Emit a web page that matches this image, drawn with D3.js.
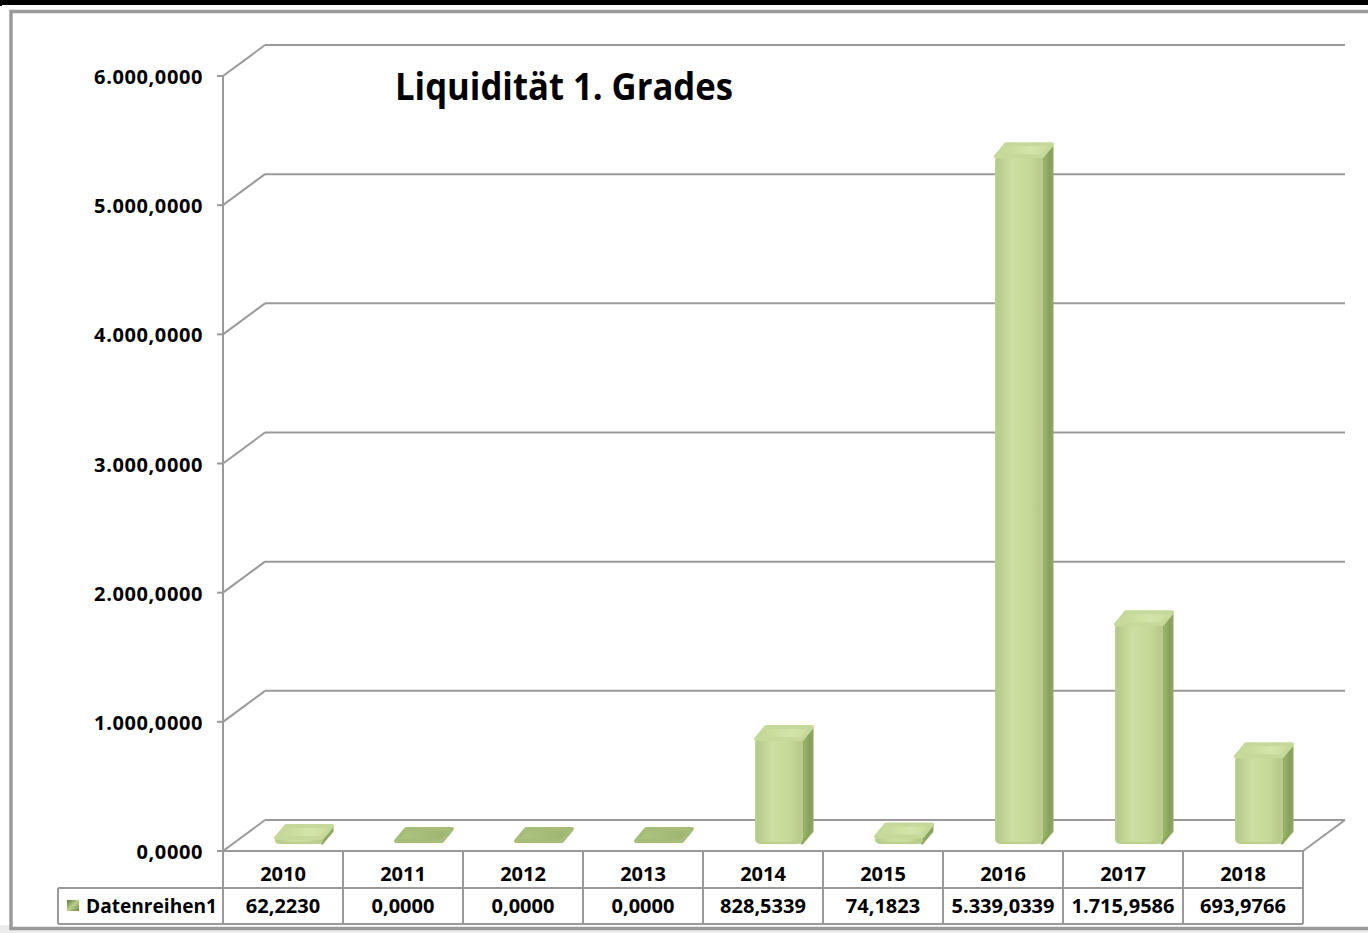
<!DOCTYPE html>
<html>
<head>
  <meta charset="utf-8" />
  <title>Liquidität 1. Grades</title>
  <style>
    html, body { margin: 0; padding: 0; background: #fff; }
    svg { display: block; }
    text { font-family: "Open Sans", "Noto Sans", sans-serif; font-weight: bold; fill: #000; }
  </style>
</head>
<body>
<svg id="chart" width="1368" height="933"></svg>

<script src="https://d3js.org/d3.v7.min.js"></script>
<script>
  // Chart data
  const title = "Liquidität 1. Grades";
  const seriesName = "Datenreihen1";
  const categories = ["2010", "2011", "2012", "2013", "2014", "2015", "2016", "2017", "2018"];
  const values = [62.2230, 0.0000, 0.0000, 0.0000, 828.5339, 74.1823, 5339.0339, 1715.9586, 693.9766];
  const yTicks = [0, 1000, 2000, 3000, 4000, 5000, 6000];

  // German number format: 5.339,0339
  const de = d3.formatLocale({ decimal: ",", thousands: ".", grouping: [3], currency: ["", " €"] });
  const fmt = de.format(",.4f");

  const svg = d3.select("#chart");

  // Geometry of the 3D plot
  const DX = 42, DY = -31;          // depth offset of the back wall
  const x = d3.scaleBand().domain(categories).range([223, 1303]);
  const y = d3.scaleLinear().domain([0, 6000]).range([851, 76]);
  const rowTop = 851, rowMid = 888, rowBottom = 924;

  // Outer frame
  svg.append("rect").attr("x", 0).attr("y", 0).attr("width", 1368).attr("height", 5).attr("fill", "#000");
  svg.append("rect").attr("x", 0).attr("y", 0).attr("width", 2).attr("height", 6).attr("fill", "#000");
  svg.append("rect").attr("x", 0).attr("y", 925).attr("width", 1368).attr("height", 8).attr("fill", "#ececec");
  svg.append("rect")
    .attr("x", 11).attr("y", 11.5).attr("width", 1380).attr("height", 917)
    .attr("fill", "#fff").attr("stroke", "#9a9a9a").attr("stroke-width", 3.5);

  // Gradients
  const defs = svg.append("defs");
  const grad = (id, stops, x2 = "100%", y2 = "0%") => {
    const g = defs.append("linearGradient").attr("id", id)
      .attr("x1", "0%").attr("y1", "0%").attr("x2", x2).attr("y2", y2);
    stops.forEach(([o, c]) => g.append("stop").attr("offset", o).attr("stop-color", c));
  };
  grad("front", [["0%", "#b3c888"], ["35%", "#cde0a3"], ["70%", "#c6da9a"], ["100%", "#b4c985"]]);
  grad("side", [["0%", "#a3bb72"], ["100%", "#7f9852"]]);
  grad("top", [["0%", "#c3d796"], ["60%", "#d3e5a9"], ["100%", "#c9dc9e"]]);
  grad("slab", [["0%", "#aec47f"], ["100%", "#9db46e"]]);
  grad("key", [["0%", "#5f7a3a"], ["50%", "#b9cf8a"], ["100%", "#6e8a45"]], "100%", "100%");

  const line = (x1, y1, x2, y2) => svg.append("line")
    .attr("x1", x1).attr("y1", y1).attr("x2", x2).attr("y2", y2)
    .attr("stroke", "#9a9a9a").attr("stroke-width", 2);

  // Gridlines: diagonal on the side wall, then flat along the back wall
  yTicks.forEach(t => {
    const yy = y(t);
    line(x.range()[0], yy, x.range()[0] + DX, yy + DY);
    line(x.range()[0] + DX, yy + DY, 1345, yy + DY);
    line(217, yy, 223, yy);  // tick mark
  });
  // floor right edge
  line(x.range()[1], rowTop, x.range()[1] + DX, rowTop + DY);
  // front axis
  line(223, y(6000), 223, rowBottom);

  // Y axis labels
  svg.append("g").selectAll("text").data(yTicks).join("text")
    .attr("x", 203).attr("y", d => y(d) + 8)
    .attr("text-anchor", "end")
    .attr("font-size", 20).attr("letter-spacing", 0.6)
    .text(d => fmt(d));

  // Title
  svg.append("text")
    .attr("x", 395).attr("y", 100)
    .attr("font-size", 37)
    .attr("textLength", 338).attr("lengthAdjust", "spacingAndGlyphs")
    .text(title);

  // Bars (3D rounded boxes)
  const bw = 46, bdx = 10, bdy = -12, yBottom = 843;
  const barG = svg.append("g");
  categories.forEach((c, i) => {
    const cx = x(c) + x.bandwidth() / 2 + 21;
    const h = y(0) - y(values[i]);
    const ytf = Math.min(846 - h, 841);
    const xl = cx - 28, xr = xl + bw;
    const g = barG.append("g").attr("stroke-linejoin", "round");
    if (values[i] > 0) {
      g.append("path")
        .attr("d", `M${xr},${ytf} L${xr + bdx},${ytf + bdy} L${xr + bdx},${yBottom + bdy} L${xr},${yBottom} Z`)
        .attr("fill", "url(#side)").attr("stroke", "#8ea55f").attr("stroke-width", 3);
      g.append("rect")
        .attr("x", xl).attr("y", ytf).attr("width", bw).attr("height", Math.max(yBottom - ytf, 1))
        .attr("rx", 4)
        .attr("fill", "url(#front)").attr("stroke", "#bacf8d").attr("stroke-width", 2);
    }
    g.append("path")
      .attr("d", `M${xl},${ytf} L${xr},${ytf} L${xr + bdx},${ytf + bdy} L${xl + bdx},${ytf + bdy} Z`)
      .attr("fill", values[i] > 0 ? "url(#top)" : "url(#slab)")
      .attr("stroke", values[i] > 0 ? "#c5d99a" : "#a6bc78").attr("stroke-width", 4);
  });

  // Data table under the chart
  line(223, rowTop, 1303, rowTop);
  line(58, rowMid, 1303, rowMid);
  line(58, rowBottom, 1303, rowBottom);
  line(58, rowMid, 58, rowBottom);
  categories.forEach(c => line(x(c) + x.bandwidth(), rowTop, x(c) + x.bandwidth(), rowBottom));

  svg.append("g").selectAll("text").data(categories).join("text")
    .attr("x", d => x(d) + x.bandwidth() / 2).attr("y", 881)
    .attr("text-anchor", "middle").attr("font-size", 20)
    .text(d => d);

  svg.append("g").selectAll("text").data(values).join("text")
    .attr("x", (d, i) => x(categories[i]) + x.bandwidth() / 2).attr("y", 913)
    .attr("text-anchor", "middle").attr("font-size", 20)
    .text(d => fmt(d));

  // Legend key + series name
  svg.append("rect").attr("x", 67).attr("y", 900).attr("width", 12).attr("height", 11)
    .attr("fill", "url(#key)");
  svg.append("text").attr("x", 86).attr("y", 913).attr("font-size", 20)
    .attr("textLength", 131).attr("lengthAdjust", "spacingAndGlyphs")
    .text(seriesName);
</script>
</body>
</html>
